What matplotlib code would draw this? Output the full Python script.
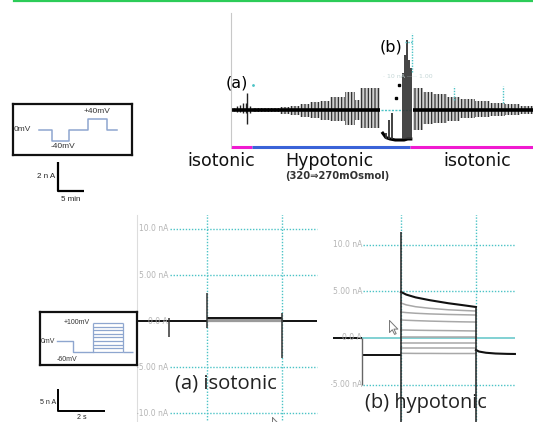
import numpy as np
import matplotlib
matplotlib.use("Agg")
import matplotlib.pyplot as plt
from matplotlib.path import Path
from matplotlib.lines import Line2D

plt.rcParams["hatch.linewidth"] = 0.8

# ------------------------------------------------------------------
# DATA
# ------------------------------------------------------------------
# --- top: long recording (time in min, current in nA) ---
pre_t = [0.6, 1.2, 1.8, 2.4, 2.8, 3.1, 3.6]
pre_up = [0.15, 0.25, 0.35, 0.45, 0.5, 1.17, 0.3]
pre_down = [-0.1, -0.15, -0.15, -0.2, -0.2, -0.97, -0.2]

grp_start = [4.2, 9.4, 11.4, 13.3, 15.2, 17.1, 19.0, 21.9, 23.9, 24.8,
             35.0, 36.9, 38.9, 41.5, 44.0, 46.9, 49.8, 52.7, 55.6]
grp_end = [9.4, 11.4, 13.3, 15.2, 17.1, 19.0, 21.9, 23.9, 24.8, 28.6,
           36.9, 38.9, 41.5, 44.0, 46.9, 49.8, 52.7, 55.6, 58.1]
grp_up = [0.14, 0.21, 0.28, 0.41, 0.55, 0.62, 0.90, 1.24, 0.69, 1.52,
          1.52, 1.24, 1.10, 0.90, 0.76, 0.62, 0.48, 0.41, 0.28]
grp_down = [-0.14, -0.28, -0.35, -0.48, -0.55, -0.69, -0.76, -1.04, -0.69, -1.24,
            -1.38, -0.97, -0.90, -0.76, -0.55, -0.48, -0.41, -0.35, -0.28]

base_start = [0.2, 35.0]
base_end = [28.6, 58.1]

dip_t = [29.2, 29.8, 30.6, 31.6, 32.5, 33.3, 34.0, 34.6]
dip_floor = [-1.6, -1.9, -2.0, -2.07, -2.07, -2.07, -2.0, -2.0]
rise_t = [29.8, 30.4, 31.0, 33.1, 33.5, 33.8, 34.2, 34.6]
rise_top = [-1.59, -0.69, -0.21, 2.55, 3.80, 4.83, 3.45, 2.90]
dot_t = [31.7, 32.3]
dot_v = [0.83, 1.73]

cond_start = [0.0, 4.0, 34.4]
cond_end = [4.0, 34.4, 58.1]
cond_names = ["isotonic", "Hypotonic", "isotonic"]
cond_colors = ["#f01ad0", "#3a63d8", "#f01ad0"]

scale1_nA = 2
scale1_min = 5

# --- voltage protocol 1 (arbitrary time, mV) ---
prot1_t = [26, 39, 39, 56, 56, 75, 75, 94, 94, 104]
prot1_v = [0, 0, -40, -40, 0, 0, 40, 40, 0, 0]

# --- voltage protocol 2 (arbitrary time, mV) ---
prot2_hold_t = [17, 33, 33, 53]
prot2_hold_v = [0, 0, -60, -60]
prot2_levels = [-60, -40, -20, 0, 20, 40, 60, 80, 100]
prot2_pulse = (53, 83)
prot2_end = 93

scale2_nA = 5
scale2_s = 2

# --- bottom panels (time in s, current in nA) ---
grid_levels = [10, 5, 0, -5, -10]
grid_labels = ["10.0 nA", "5.00 nA", "0.0 A", "-5.00 nA", "-10.0 nA"]
step_times = [2.98, 6.17]

# (a) isotonic
a_spike_t = [1.35, 2.98, 6.17]
a_spike_hi = [0.3, 3.0, 0.87]
a_spike_lo = [-1.7, -0.8, -4.0]
a_pulse_levels = [0.10, 0.17, 0.24, 0.02, 0.33]
a_hold = [(0.0, 2.98, 0.0), (6.17, 7.66, 0.0)]

# (b) hypotonic
b_spike_t = [1.32, 2.98, 6.17]
b_spike_hi = [0.0, 11.3, 3.32]
b_spike_lo = [-5.0, -9.5, -9.5]
b_hold = [(0.09, 1.32, 0.0), (1.32, 2.98, -1.82)]
pulse_t = [2.98, 3.2, 3.6, 4.2, 5.0, 5.6, 6.17]
b_sweeps = [
    [-1.64, -1.64, -1.65, -1.65, -1.66, -1.66, -1.66],
    [-1.07, -1.07, -1.07, -1.07, -1.07, -1.07, -1.07],
    [-0.54, -0.54, -0.54, -0.54, -0.54, -0.54, -0.54],
    [0.11, 0.11, 0.11, 0.11, 0.11, 0.11, 0.11],
    [0.86, 0.85, 0.83, 0.81, 0.79, 0.77, 0.75],
    [1.93, 1.90, 1.86, 1.81, 1.76, 1.73, 1.71],
    [2.78, 2.72, 2.65, 2.58, 2.52, 2.49, 2.46],
    [3.75, 3.55, 3.35, 3.18, 3.02, 2.95, 2.89],
    [4.93, 4.65, 4.35, 4.05, 3.72, 3.52, 3.32],
]
tail_t = [6.17, 6.3, 6.6, 7.0, 7.5, 7.83]
tail_v = [-1.28, -1.45, -1.58, -1.66, -1.70, -1.71]

# ------------------------------------------------------------------
# FIGURE
# ------------------------------------------------------------------
W, H = 533, 422
fig = plt.figure(figsize=(W / 100, H / 100), dpi=100)
fig.patch.set_facecolor("white")


def px_axes(x0, y0, x1, y1, z=1):
    ax = fig.add_axes([x0 / W, 1 - y1 / H, (x1 - x0) / W, (y1 - y0) / H])
    ax.set_zorder(z)
    ax.patch.set_alpha(0)
    ax.set_xticks([])
    ax.set_yticks([])
    return ax


def hide_spines(ax):
    for s in ax.spines.values():
        s.set_visible(False)


TEAL = "#4cc3c6"
TICKC = "#b4b4b4"
cursor_path = Path([(0, 0), (0, -13), (3, -10), (5.5, -15), (7.2, -14.2),
                    (4.8, -9.3), (9, -9.3), (0, 0)])

# green line at top
fig.add_artist(Line2D([14 / W, 1], [1 - 0.8 / H, 1 - 0.8 / H],
                      transform=fig.transFigure, color="#2ccc58", lw=1.6))

# ---------------- top recording ----------------
axT = px_axes(231, 13, 533, 150)
axT.set_xlim(0, 58.1)
axT.set_ylim(-2.76, 6.69)
hide_spines(axT)
axT.spines["left"].set_visible(True)
axT.spines["left"].set_color("#c8c8c8")
axT.spines["left"].set_bounds(-2.55, 6.69)

axT.vlines(pre_t, pre_down, pre_up, color="#222", lw=1.0)
widths = [e - s for s, e in zip(grp_start, grp_end)]
heights = [u - d for u, d in zip(grp_up, grp_down)]
axT.bar(grp_start, heights, width=widths, bottom=grp_down, align="edge",
        color="#cfcfcf", edgecolor="#222222", hatch="|||||", linewidth=0)
axT.hlines([0] * len(base_start), base_start, base_end, color="black", lw=2.6)
axT.hlines(0, 28.9, 34.6, color=TEAL, lw=1.0, linestyles=(0, (1.5, 1)))
axT.plot(dip_t, dip_floor, color="black", lw=2.2)
axT.vlines(rise_t, -2.0, rise_top, color="#333", lw=1.3)
axT.plot(dot_t, dot_v, "s", color="black", ms=2)
axT.vlines([34.8, 42.9, 52.3], [2.62, 0.69, 0.48], [5.31, 1.66, 1.66],
           color=TEAL, lw=1.0, linestyles=(0, (1, 1)))
axT.hlines(4.69, 33.5, 34.8, color=TEAL, lw=1.0, linestyles=(0, (1, 1)))
axT.plot([4.2], [1.72], ".", color=TEAL, ms=2)
axT.text(29.2, 2.28, "· 10 nA ····· 1.00", fontsize=4.5, color="#c4d6d6",
         va="center", ha="left")

for s, e, c in zip(cond_start, cond_end, cond_colors):
    axT.plot([s, e], [-2.55, -2.55], color=c, lw=2.2, solid_capstyle="butt",
             clip_on=False)

axT.text(-1.9, -3.55, cond_names[0], ha="center", va="center", fontsize=12.5,
         clip_on=False, color="#111")
axT.text(18.9, -3.55, cond_names[1], ha="center", va="center", fontsize=12.5,
         clip_on=False, color="#111")
axT.text(47.3, -3.55, cond_names[2], ha="center", va="center", fontsize=12.5,
         clip_on=False, color="#111")
axT.text(20.4, -4.55, "(320⇒270mOsmol)", ha="center", va="center",
         fontsize=7.2, fontweight="bold", color="#333", clip_on=False)
axT.text(1.15, 1.86, "(a)", ha="center", va="center", fontsize=11.5,
         clip_on=False)
axT.text(30.8, 4.35, "(b)", ha="center", va="center", fontsize=11.5,
         clip_on=False)

# scale bar 1 (drawn in the recording's own units)
sb_x, sb_y = -33.3, -5.59
axT.plot([sb_x, sb_x, sb_x + scale1_min], [sb_y + scale1_nA, sb_y, sb_y],
         color="black", lw=1.6, clip_on=False, solid_capstyle="butt")
axT.text(sb_x - 0.5, sb_y + scale1_nA / 2, f"{scale1_nA} n A", ha="right",
         va="center", fontsize=5.8, family="Liberation Sans", color="#222",
         clip_on=False)
axT.text(sb_x + scale1_min / 2, sb_y - 0.55, f"{scale1_min} min", ha="center",
         va="center", fontsize=5.8, family="Liberation Sans", color="#222",
         clip_on=False)

# ---------------- protocol box 1 ----------------
axP1 = px_axes(13, 104, 132, 155, z=3)
axP1.patch.set_alpha(1)
axP1.set_xlim(0, 119)
axP1.set_ylim(-90.9, 94.5)
for s in axP1.spines.values():
    s.set_linewidth(1.6)
    s.set_color("#111")
axP1.plot(prot1_t, prot1_v, color="#8ea6cf", lw=1.1)
axP1.text(0.5, 0, "0mV", fontsize=6, family="Liberation Sans", va="center",
          ha="left", color="#333")
axP1.text(84, 66, "+40mV", fontsize=6, family="Liberation Sans", va="center",
          ha="center", color="#333")
axP1.text(50, -60, "-40mV", fontsize=6, family="Liberation Sans", va="center",
          ha="center", color="#333")

# ---------------- protocol box 2 ----------------
axP2 = px_axes(40, 312, 137, 365, z=3)
axP2.patch.set_alpha(1)
axP2.set_xlim(0, 97)
axP2.set_ylim(-131.8, 160.7)
for s in axP2.spines.values():
    s.set_linewidth(1.6)
    s.set_color("#111")
PC = "#8ea6cf"
axP2.plot(prot2_hold_t, prot2_hold_v, color=PC, lw=1.0)
axP2.hlines(prot2_levels, prot2_pulse[0], prot2_pulse[1], color=PC, lw=0.9)
axP2.vlines(list(prot2_pulse), prot2_levels[0], prot2_levels[-1], color=PC,
            lw=0.9)
axP2.hlines(prot2_levels[0], prot2_pulse[1], prot2_end, color=PC, lw=1.0)
axP2.text(1, 0, "0mV", fontsize=5, family="Liberation Sans", va="center",
          ha="left", color="#333")
axP2.text(37, 100, "+100mV", fontsize=5, family="Liberation Sans",
          va="center", ha="center", color="#333")
axP2.text(27, -100, "-60mV", fontsize=5, family="Liberation Sans",
          va="center", ha="center", color="#333")

# scale bar 2
axS2 = px_axes(40, 380, 137, 422, z=3)
hide_spines(axS2)
axS2.set_xlim(0, 4.13)
axS2.set_ylim(0, 9.55)
s2x, s2y = 0.77, 2.5
axS2.plot([s2x, s2x, s2x + scale2_s], [s2y + scale2_nA, s2y, s2y],
          color="black", lw=1.4, solid_capstyle="butt")
axS2.text(s2x - 0.08, s2y + 2.0, f"{scale2_nA} n A", ha="right", va="center",
          fontsize=5, family="Liberation Sans", color="#222")
axS2.text(s2x + scale2_s / 2, 0.25, f"{scale2_s} s", ha="center",
          va="bottom", fontsize=5, family="Liberation Sans", color="#222")


# ---------------- bottom panels ----------------
def panel(x0, x1, zero_py, px_per_nA, xmax):
    ax = px_axes(x0, 215, x1, 422)
    hide_spines(ax)
    ax.set_xlim(0, xmax)
    ax.set_ylim(-(422 - zero_py) / px_per_nA, (zero_py - 215) / px_per_nA)
    return ax


# (a)
axA = panel(137, 320, 321, 9.2, 7.79)
axA.spines["left"].set_visible(True)
axA.spines["left"].set_color("#dddddd")
for lev in [g for g in grid_levels if g != 0]:
    axA.hlines(lev, 1.40, 7.66, color=TEAL, lw=1.0, linestyles=(0, (1, 1.2)))
axA.vlines(step_times, -12, 12, color=TEAL, lw=1.0, linestyles=(0, (1, 1.2)))
for lev, lab in zip(grid_levels, grid_labels):
    axA.text(1.33, lev, lab, ha="right", va="center", fontsize=5.5,
             color=TICKC, clip_on=True, family="DejaVu Sans")
for s, e, v in a_hold:
    axA.hlines(v, s, e, color="#111", lw=1.4)
for lev in a_pulse_levels:
    axA.hlines(lev, step_times[0], step_times[1],
               color="#111" if lev == a_pulse_levels[-1] else "#9a9a9a",
               lw=1.4 if lev == a_pulse_levels[-1] else 0.9)
axA.vlines(a_spike_t, a_spike_lo, a_spike_hi, color="#333", lw=1.1)
axA.text(1.62, -6.74, "(a) isotonic", ha="left", va="center", fontsize=14.6,
         family="Open Sans", color="#222")
axA.plot([5.74], [-10.4], marker=cursor_path, ms=20, mfc="white", mec="#777",
         mew=0.7, clip_on=True)

# (b)
axB = panel(331, 533, 338, 9.34, 8.6)
for lev in [g for g in grid_levels if g != 0 and g > -10]:
    axB.hlines(lev, 1.36, 7.83, color=TEAL, lw=1.0, linestyles=(0, (1, 1.2)))
axB.hlines(0, 0.09, 7.83, color="#6cc9cc", lw=1.2)
axB.vlines(step_times, -12, 14, color=TEAL, lw=1.0, linestyles=(0, (1, 1.2)))
for lev, lab in zip(grid_levels[:4], grid_labels[:4]):
    axB.text(1.33, lev, lab, ha="right", va="center", fontsize=5.5,
             color=TICKC, clip_on=True, family="DejaVu Sans")
for s, e, v in b_hold:
    axB.hlines(v, s, e, color="#111", lw=1.4)
for i, sw in enumerate(b_sweeps):
    top = i == len(b_sweeps) - 1
    axB.plot(pulse_t, sw, color="#111" if top else "#a8a8a8",
             lw=1.5 if top else 1.1)
axB.plot(tail_t, tail_v, color="#111", lw=1.5)
axB.vlines(b_spike_t[0], b_spike_lo[0], b_spike_hi[0], color="#666", lw=1.0)
axB.vlines(b_spike_t[1:], b_spike_lo[1:], b_spike_hi[1:], color="#222",
           lw=1.1)
axB.text(1.45, -6.96, "(b) hypotonic", ha="left", va="center", fontsize=14.4,
         family="Open Sans", color="#222")
axB.plot([2.47], [1.93], marker=cursor_path, ms=20, mfc="white", mec="#777",
         mew=0.7)

fig.savefig("out.png", dpi=100, facecolor="white")
